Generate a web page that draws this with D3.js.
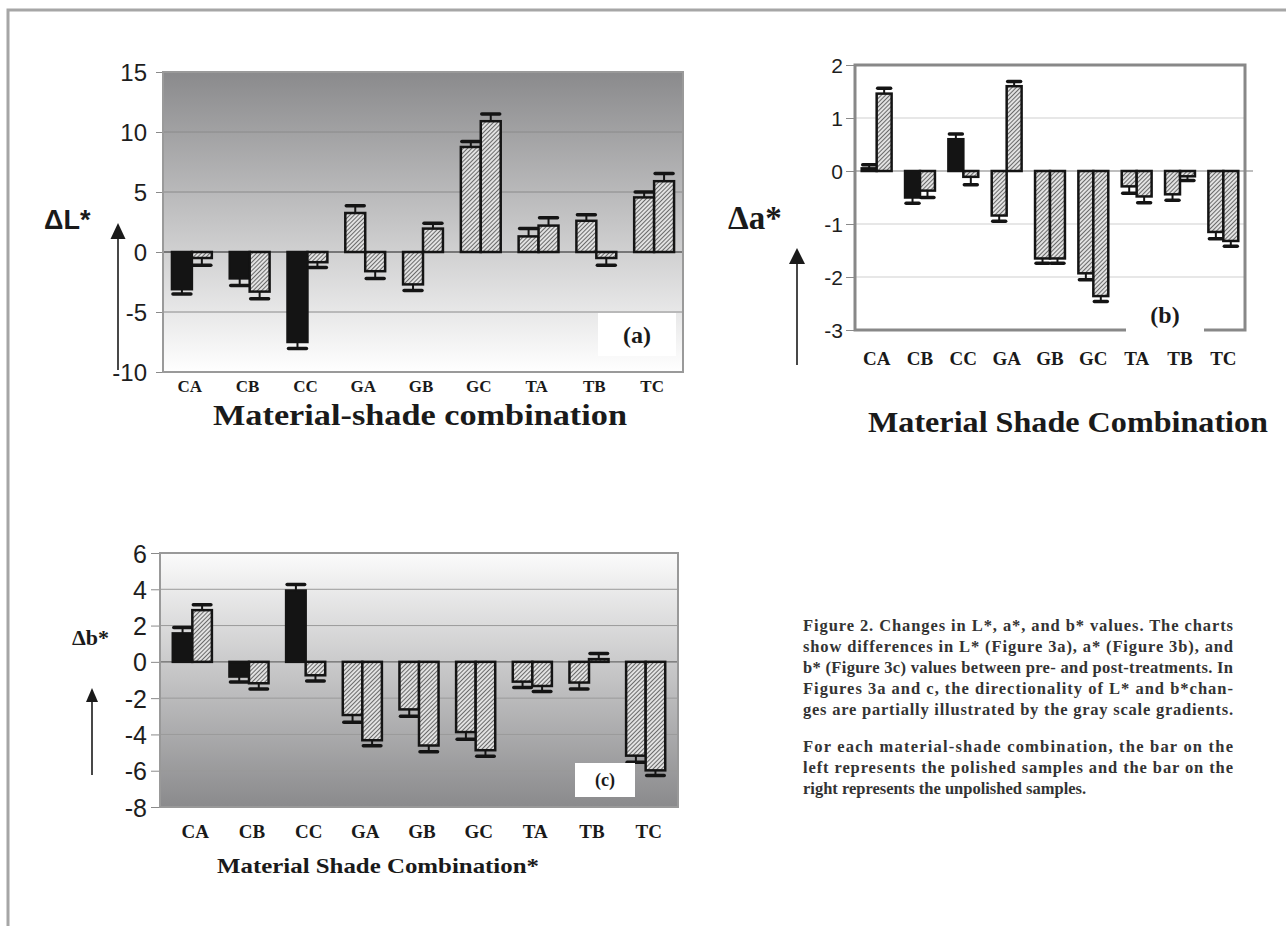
<!DOCTYPE html>
<html>
<head>
<meta charset="utf-8">
<script src="https://cdn.jsdelivr.net/npm/d3@7"></script>
<style>
  body { margin: 0; background: #fff; }
  svg { display: block; }
</style>
</head>
<body>
<svg width="1286" height="926"></svg>
<script>
// material-shade combinations
const categories = ["CA", "CB", "CC", "GA", "GB", "GC", "TA", "TB", "TC"];
// polished bars drawn solid black (ceramic)
const solidPolished = ["CA", "CB", "CC"];

// (a) delta L*
const dL_polished     = [-3.1, -2.2, -7.5, 3.25, -2.7, 8.75, 1.3, 2.6, 4.55];
const dL_polishedErr  = [0.4, 0.6, 0.55, 0.6, 0.5, 0.45, 0.65, 0.5, 0.45];
const dL_unpolished   = [-0.5, -3.3, -0.85, -1.6, 1.95, 10.9, 2.2, -0.5, 5.9];
const dL_unpolishedErr= [0.6, 0.6, 0.45, 0.6, 0.45, 0.6, 0.65, 0.6, 0.65];
const dL_ticks = [-10, -5, 0, 5, 10, 15];

// (b) delta a*
const dA_polished     = [0.05, -0.5, 0.6, -0.84, -1.65, -1.93, -0.29, -0.44, -1.15];
const dA_polishedErr  = [0.07, 0.11, 0.1, 0.11, 0.09, 0.12, 0.13, 0.11, 0.13];
const dA_unpolished   = [1.46, -0.37, -0.11, 1.6, -1.65, -2.36, -0.48, -0.1, -1.32];
const dA_unpolishedErr= [0.1, 0.13, 0.15, 0.09, 0.09, 0.1, 0.12, 0.08, 0.1];
const dA_ticks = [-3, -2, -1, 0, 1, 2];

// (c) delta b*
const dB_polished     = [1.57, -0.81, 3.93, -2.93, -2.62, -3.87, -1.09, -1.14, -5.17];
const dB_polishedErr  = [0.33, 0.3, 0.33, 0.4, 0.38, 0.4, 0.33, 0.36, 0.36];
const dB_unpolished   = [2.85, -1.18, -0.74, -4.32, -4.61, -4.87, -1.33, 0.15, -5.98];
const dB_unpolishedErr= [0.3, 0.32, 0.31, 0.3, 0.35, 0.33, 0.31, 0.31, 0.29];
const dB_ticks = [-8, -6, -4, -2, 0, 2, 4, 6];

const captionPara1 = [
  "Figure 2.  Changes in L*, a*, and b* values. The charts",
  "show differences in L* (Figure 3a), a* (Figure 3b), and",
  "b* (Figure 3c) values between pre- and post-treatments. In",
  "Figures 3a and c, the directionality of L* and b*chan-",
  "ges are partially illustrated by the gray scale gradients."
];
const captionPara2 = [
  "For each material-shade combination, the bar on the",
  "left represents the polished samples and the bar on the",
  "right represents the unpolished samples."
];

const svg = d3.select("svg");
const serif = "'Liberation Serif', 'Times New Roman', serif";
const sans = "'Liberation Sans', Arial, sans-serif";

const defs = svg.append("defs");
const hatch = defs.append("pattern")
  .attr("id", "hatch")
  .attr("patternUnits", "userSpaceOnUse")
  .attr("width", 3).attr("height", 3)
  .attr("patternTransform", "rotate(45)");
hatch.append("rect").attr("width", 3).attr("height", 3).attr("fill", "#e2e2e2");
hatch.append("line").attr("x1", 0.5).attr("y1", 0).attr("x2", 0.5).attr("y2", 3)
  .attr("stroke", "#6a6a6a").attr("stroke-width", 1);

function vGrad(id, top, bottom) {
  const lg = defs.append("linearGradient").attr("id", id)
    .attr("x1", 0).attr("y1", 0).attr("x2", 0).attr("y2", 1);
  lg.append("stop").attr("offset", "0%").attr("stop-color", top);
  lg.append("stop").attr("offset", "100%").attr("stop-color", bottom);
}
vGrad("gradA", "#8a8a8c", "#ffffff");
vGrad("gradC", "#fbfbfb", "#8a8a8c");

// page frame
svg.append("rect").attr("x", 8).attr("y", 10).attr("width", 1300).attr("height", 940)
  .attr("fill", "none").attr("stroke", "#a6a6a6").attr("stroke-width", 3);

function drawChart(o) {
  const g = svg.append("g");
  const x = d3.scaleBand().domain(categories).range(o.barRange)
    .paddingInner(0.31).paddingOuter(0.155);
  const xs = d3.scaleBand().domain(["pol", "unp"]).range([0, x.bandwidth()]);
  const y = d3.scaleLinear().domain(o.yDomain).range(o.yRange);
  const [L, R] = o.plotX;
  const top = y(o.yDomain[1]), bot = y(o.yDomain[0]);

  g.append("rect").attr("x", L).attr("y", top).attr("width", R - L).attr("height", bot - top)
    .attr("fill", o.bg);

  g.selectAll(".grid").data(o.ticks.filter(t => t !== o.yDomain[0] && t !== o.yDomain[1]))
    .join("line")
    .attr("x1", L).attr("x2", d => d === 0 ? R + o.zeroExt : R)
    .attr("y1", d => y(d)).attr("y2", d => y(d))
    .attr("stroke", d => d === 0 ? o.zeroColor : o.gridColor)
    .attr("stroke-width", d => d === 0 ? 1.3 : 1);

  const ax = g.append("g").attr("transform", `translate(${L},0)`)
    .call(d3.axisLeft(y).tickValues(o.ticks).tickSize(o.tickLen).tickPadding(o.tickPad)
      .tickFormat(d => String(d)));
  ax.select(".domain").remove();
  ax.selectAll("line").attr("stroke", "#8a8a8a");
  ax.selectAll("text").attr("font-family", sans).attr("font-size", o.tickSize)
    .attr("fill", "#1e1e1e").attr("dy", "0.36em");

  g.append("rect").attr("x", L).attr("y", top).attr("width", R - L).attr("height", bot - top)
    .attr("fill", "none").attr("stroke", o.borderColor).attr("stroke-width", o.borderW);

  const rows = [];
  categories.forEach((c, i) => {
    rows.push({ c, k: "pol", v: o.pol[i], e: o.polErr[i] });
    rows.push({ c, k: "unp", v: o.unp[i], e: o.unpErr[i] });
  });
  const bw = xs.bandwidth();

  const bars = g.selectAll(".bar").data(rows).join("g");
  bars.append("rect")
    .attr("x", d => x(d.c) + xs(d.k))
    .attr("y", d => y(Math.max(0, d.v)))
    .attr("width", bw)
    .attr("height", d => Math.abs(y(d.v) - y(0)))
    .attr("fill", d => d.k === "pol" && solidPolished.includes(d.c) ? "#141414" : "url(#hatch)")
    .attr("stroke", "#141414").attr("stroke-width", o.barStroke);
  const endOf = d => d.v + (d.v >= 0 ? 1 : -1) * d.e;
  bars.append("line")
    .attr("x1", d => x(d.c) + xs(d.k) + bw / 2).attr("x2", d => x(d.c) + xs(d.k) + bw / 2)
    .attr("y1", d => y(d.v)).attr("y2", d => y(endOf(d)))
    .attr("stroke", "#141414").attr("stroke-width", 2);
  bars.append("line")
    .attr("x1", d => x(d.c) + xs(d.k) + 1).attr("x2", d => x(d.c) + xs(d.k) + bw - 1)
    .attr("y1", d => y(endOf(d))).attr("y2", d => y(endOf(d)))
    .attr("stroke", "#141414").attr("stroke-width", 3.5).attr("stroke-linecap", "round");

  g.selectAll(".cat").data(categories).join("text")
    .attr("x", d => x(d) + x.bandwidth() / 2 + o.catDx).attr("y", o.catY)
    .attr("text-anchor", "middle").attr("font-family", serif).attr("font-weight", "bold")
    .attr("font-size", o.catSize).attr("fill", "#1a1a1a").text(d => d);

  // panel letter box
  const b = o.box;
  g.append("rect").attr("x", b.x).attr("y", b.y).attr("width", b.w).attr("height", b.h).attr("fill", "#fff");
  g.append("text").attr("x", b.x + b.w / 2).attr("y", b.y + b.h / 2).attr("dy", "0.35em")
    .attr("text-anchor", "middle").attr("font-family", serif).attr("font-weight", "bold")
    .attr("font-size", b.size).attr("fill", "#1a1a1a").text(b.label);

  // axis symbol and arrow
  g.append("text").attr("x", o.yLab.x).attr("y", o.yLab.y)
    .attr("font-family", o.yLab.font).attr("font-weight", "bold")
    .attr("font-size", o.yLab.size).attr("fill", "#1a1a1a").text(o.yLab.text);
  const a = o.arrow;
  g.append("line").attr("x1", a.x).attr("x2", a.x).attr("y1", a.y1).attr("y2", a.y0 + a.head)
    .attr("stroke", "#1a1a1a").attr("stroke-width", 1.6);
  g.append("path")
    .attr("d", `M${a.x},${a.y0} L${a.x - a.hw},${a.y0 + a.head} L${a.x + a.hw},${a.y0 + a.head} Z`)
    .attr("fill", "#1a1a1a");

  g.append("text").attr("x", o.title.x).attr("y", o.title.y).attr("text-anchor", "middle")
    .attr("font-family", serif).attr("font-weight", "bold").attr("font-size", o.title.size)
    .attr("textLength", o.title.w).attr("lengthAdjust", "spacingAndGlyphs")
    .attr("fill", "#1a1a1a").text(o.title.text);
}

drawChart({
  pol: dL_polished, polErr: dL_polishedErr, unp: dL_unpolished, unpErr: dL_unpolishedErr,
  ticks: dL_ticks, yDomain: [-10, 15], yRange: [372, 72],
  plotX: [163, 683], barRange: [163, 683],
  bg: "url(#gradA)", gridColor: "#8a8a8a", zeroColor: "#5a5a5a", zeroExt: 0,
  borderColor: "#9a9a9a", borderW: 2,
  tickLen: 7, tickPad: 9, tickSize: 24, barStroke: 2.5,
  catY: 392, catSize: 17, catDx: -2,
  box: { x: 598, y: 313, w: 78, h: 43, label: "(a)", size: 24 },
  yLab: { x: 44, y: 229, text: "\u0394L*", size: 27, font: sans },
  arrow: { x: 118, y0: 223, y1: 370, head: 16, hw: 7.5 },
  title: { x: 420, y: 425, text: "Material-shade combination", size: 29, w: 414 }
});

drawChart({
  pol: dA_polished, polErr: dA_polishedErr, unp: dA_unpolished, unpErr: dA_unpolishedErr,
  ticks: dA_ticks, yDomain: [-3, 2], yRange: [330, 65],
  plotX: [855, 1245], barRange: [855, 1245],
  bg: "#ffffff", gridColor: "#cfcfcf", zeroColor: "#a8a8a8", zeroExt: 8,
  borderColor: "#888888", borderW: 3,
  tickLen: 9, tickPad: 3, tickSize: 21, barStroke: 2.5,
  catY: 365, catSize: 19, catDx: 0,
  box: { x: 1126, y: 296, w: 78, h: 38, label: "(b)", size: 24 },
  yLab: { x: 728, y: 229, text: "\u0394a*", size: 33, font: serif },
  arrow: { x: 797, y0: 248, y1: 365, head: 16, hw: 8 },
  title: { x: 1068, y: 432, text: "Material Shade Combination", size: 30, w: 400 }
});

drawChart({
  pol: dB_polished, polErr: dB_polishedErr, unp: dB_unpolished, unpErr: dB_unpolishedErr,
  ticks: dB_ticks, yDomain: [-8, 6], yRange: [807, 553],
  plotX: [160, 678], barRange: [164, 674],
  bg: "url(#gradC)", gridColor: "#9a9a9a", zeroColor: "#6a6a6a", zeroExt: 0,
  borderColor: "#999999", borderW: 2,
  tickLen: 9, tickPad: 4, tickSize: 25, barStroke: 2.5,
  catY: 838, catSize: 19, catDx: 3,
  box: { x: 575, y: 763, w: 60, h: 34, label: "(c)", size: 18 },
  yLab: { x: 72, y: 645, text: "\u0394b*", size: 22, font: serif },
  arrow: { x: 92, y0: 688, y1: 775, head: 14, hw: 6 },
  title: { x: 378, y: 873, text: "Material Shade Combination*", size: 22, w: 322 }
});

// caption
const cap = svg.append("g").attr("font-family", serif).attr("font-weight", "bold")
  .attr("font-size", 16.5).attr("fill", "#333");
function para(lines, y0, justifyAll) {
  cap.selectAll(null).data(lines).join("text")
    .attr("x", 803).attr("y", (d, i) => y0 + i * 21)
    .each(function (d, i) {
      if (justifyAll || i < lines.length - 1) d3.select(this).attr("textLength", 430).attr("lengthAdjust", "spacing");
    })
    .text(d => d);
}
para(captionPara1, 631, true);
para(captionPara2, 752, false);
</script>
</body>
</html>
